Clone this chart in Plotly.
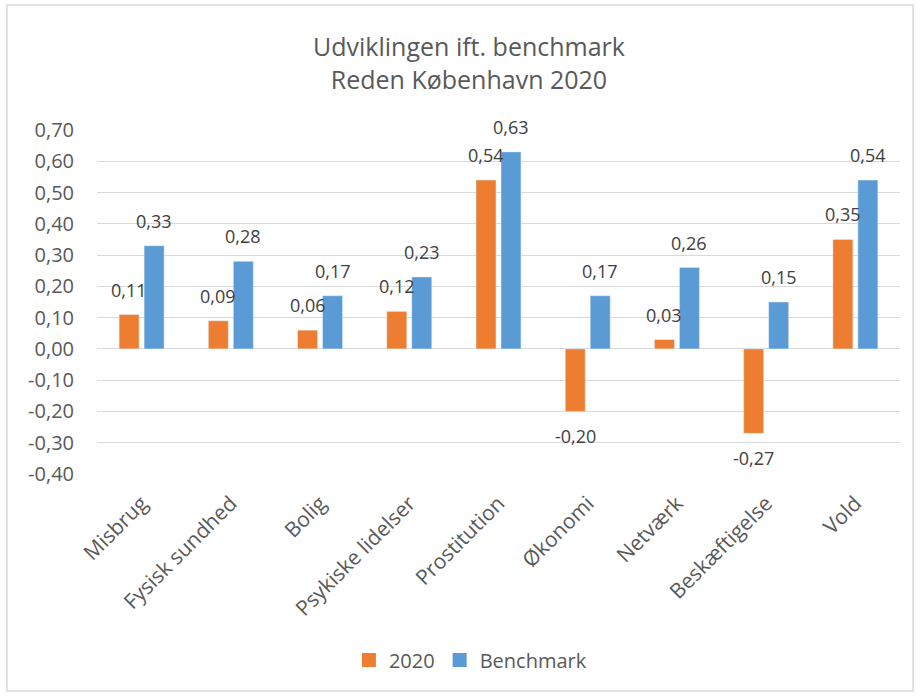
import plotly.graph_objects as go

categories = ["Misbrug", "Fysisk sundhed", "Bolig", "Psykiske lidelser", "Prostitution",
              "Økonomi", "Netværk", "Beskæftigelse", "Vold"]
values_2020 = [0.11, 0.09, 0.06, 0.12, 0.54, -0.20, 0.03, -0.27, 0.35]
values_benchmark = [0.33, 0.28, 0.17, 0.23, 0.63, 0.17, 0.26, 0.15, 0.54]
y_tick_vals = [0.7, 0.6, 0.5, 0.4, 0.3, 0.2, 0.1, 0.0, -0.1, -0.2, -0.3, -0.4]
y_tick_text = ["0,70", "0,60", "0,50", "0,40", "0,30", "0,20", "0,10", "0,00",
               "-0,10", "-0,20", "-0,30", "-0,40"]
series_names = ["2020", "Benchmark"]
series_colors = ["#ED7D31", "#5B9BD5"]


def fmt(v):
    return f"{v:.2f}".replace(".", ",")


TXT = "#595959"
FONT = "Open Sans"

fig = go.Figure()
for name, vals, col in zip(series_names, [values_2020, values_benchmark], series_colors):
    fig.add_trace(go.Bar(
        name=name, x=categories, y=vals,
        marker=dict(color=col), showlegend=False, hoverinfo="x+y",
    ))
for name, col in zip(series_names, series_colors):
    fig.add_trace(go.Scatter(
        name=name, x=[None], y=[None], mode="markers",
        marker=dict(symbol="square", size=14, color=col),
        showlegend=True,
    ))

# data labels (outside end), offset to each bar of the group
annotations = []
for shift, vals in zip([-12.5, 12.5], [values_2020, values_benchmark]):
    for c, v in zip(categories, vals):
        annotations.append(dict(
            x=c, y=v, xref="x", yref="y", text=fmt(v), showarrow=False,
            xshift=shift, yshift=11 if v >= 0 else -11,
            yanchor="bottom" if v >= 0 else "top",
            font=dict(size=18, color="#404040", family=FONT),
        ))

L, R, T, B = 97, 20, 130, 222
W, H = 920, 696
pw, ph = W - L - R, H - T - B

def px_x(x):
    return (x - L) / pw

def px_y(y):
    return (H - B - y) / ph

fig.update_layout(
    width=W, height=H,
    margin=dict(l=L, r=R, t=T, b=B, autoexpand=False),
    paper_bgcolor="white", plot_bgcolor="white",
    font=dict(family=FONT, color=TXT, size=18),
    title=dict(
        text="Udviklingen ift. benchmark<br>Reden København 2020",
        x=469 / W, xref="container", xanchor="center",
        y=1 - 56 / H, yref="container", yanchor="middle",
        font=dict(size=25, color=TXT, family=FONT),
    ),
    barmode="group", bargap=0.44, bargroupgap=0.2,
    showlegend=True,
    legend=dict(
        orientation="h", x=0.465, xanchor="center",
        y=px_y(660), yanchor="middle",
        font=dict(size=20, color=TXT, family=FONT),
        traceorder="normal", itemwidth=30,
    ),
    xaxis=dict(
        tickangle=-45, tickfont=dict(size=21, color=TXT, family=FONT),
        showgrid=False, showline=False, ticks="", automargin=False,
        ticklabelstandoff=12,
    ),
    yaxis=dict(
        range=[-0.4, 0.7], tickvals=y_tick_vals, ticktext=y_tick_text,
        tickfont=dict(size=20, color=TXT, family=FONT),
        showgrid=True, gridcolor="#D9D9D9", gridwidth=1.3,
        zeroline=True, zerolinecolor="#D9D9D9", zerolinewidth=1.3,
        showline=False, ticks="", ticklabelstandoff=22, automargin=False,
    ),
    annotations=annotations,
    shapes=[dict(
        type="rect", xref="paper", yref="paper",
        x0=px_x(7), x1=px_x(913), y0=px_y(691), y1=px_y(5),
        line=dict(color="#D9D9D9", width=1.5), fillcolor="rgba(0,0,0,0)",
        layer="below",
    )],
)

fig.write_html("out.html", config={"displayModeBar": False},
               post_script="document.body.style.margin='0px';")
